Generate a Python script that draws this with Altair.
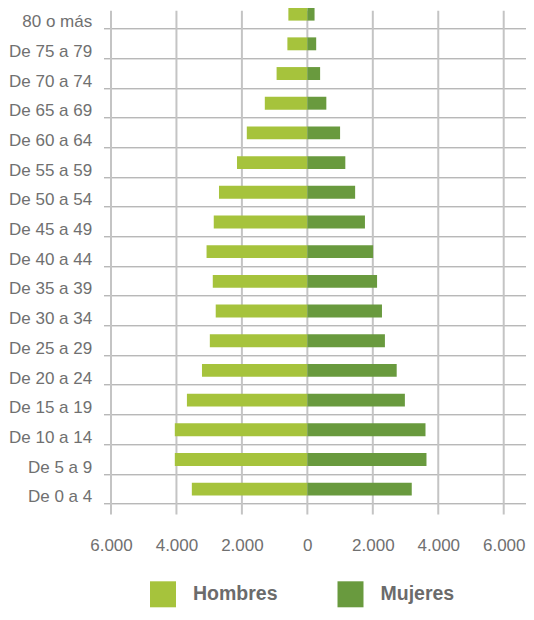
import altair as alt
import pandas as pd

# ---- data ----
ages = ["80 o más", "De 75 a 79", "De 70 a 74", "De 65 a 69", "De 60 a 64",
        "De 55 a 59", "De 50 a 54", "De 45 a 49", "De 40 a 44", "De 35 a 39",
        "De 30 a 34", "De 25 a 29", "De 20 a 24", "De 15 a 19", "De 10 a 14",
        "De 5 a 9", "De 0 a 4"]
hombres = [580, 610, 940, 1300, 1850, 2150, 2700, 2860, 3080, 2890,
           2800, 2980, 3220, 3680, 4050, 4050, 3530]
mujeres = [220, 270, 390, 580, 1000, 1160, 1460, 1760, 2010, 2130,
           2280, 2370, 2730, 2980, 3610, 3640, 3190]
series = ["Hombres", "Mujeres"]
colors = ["#a6c33c", "#699a3e"]
tick_values = [-6000, -4000, -2000, 0, 2000, 4000, 6000]

rows = []
for a, h, m in zip(ages, hombres, mujeres):
    rows.append({"edad": a, "sexo": "Hombres", "value": -h})
    rows.append({"edad": a, "sexo": "Mujeres", "value": m})
df = pd.DataFrame(rows)
grid_df = pd.DataFrame({"value": tick_values})

FONT = "Liberation Sans"
TXT = "#707070"

xscale = alt.Scale(domain=[-6229, 6681], nice=False, zero=False)
xaxis = alt.Axis(title=None, values=tick_values, grid=False, ticks=False, tickSize=0,
                 domain=False, labelFont=FONT, labelFontSize=17,
                 labelColor=TXT, labelPadding=33, labelFlush=False,
                 labelExpr="replace(format(abs(datum.value), ','), ',', '.')")

vgrid = alt.Chart(grid_df).mark_rule(color="#c4c4c4", strokeWidth=2).encode(
    x=alt.X("value:Q", scale=xscale, axis=xaxis),
    y=alt.value(11.4),
    y2=alt.value(515.2),
)

bars = alt.Chart(df).mark_bar(height=alt.RelativeBandSize(0.435)).encode(
    x=alt.X("value:Q", scale=xscale, axis=xaxis),
    y=alt.Y("edad:N", sort=ages, scale=alt.Scale(paddingInner=0, paddingOuter=0),
            axis=alt.Axis(title=None, domain=False, ticks=False, grid=True,
                          gridColor="#9a9a9a", gridWidth=1, bandPosition=1,
                          labelFont=FONT, labelFontSize=17, labelColor=TXT,
                          labelPadding=11.8, labelBaseline="alphabetic",
                          labelOffset=13.1)),
    color=alt.Color("sexo:N", scale=alt.Scale(domain=series, range=colors),
                    legend=alt.Legend(title=None, orient="none", direction="horizontal",
                                      legendX=46.5, legendY=582,
                                      symbolType="square", symbolSize=676,
                                      symbolStrokeWidth=0, symbolOpacity=1,
                                      labelFont=FONT, labelFontSize=19.5,
                                      labelFontWeight="bold", labelColor="#6b6b6b",
                                      labelOffset=17, columnPadding=59.5, padding=0)),
)

chart = alt.layer(vgrid, bars).properties(
    width=422.5, height=504.7,
    autosize=alt.AutoSizeParams(type="none"),
    padding={"top": -8.7, "left": 95.5, "right": 0, "bottom": 105},
).configure_view(stroke=None)

chart.save("out.html", embed_options={"renderer": "svg", "actions": False})
